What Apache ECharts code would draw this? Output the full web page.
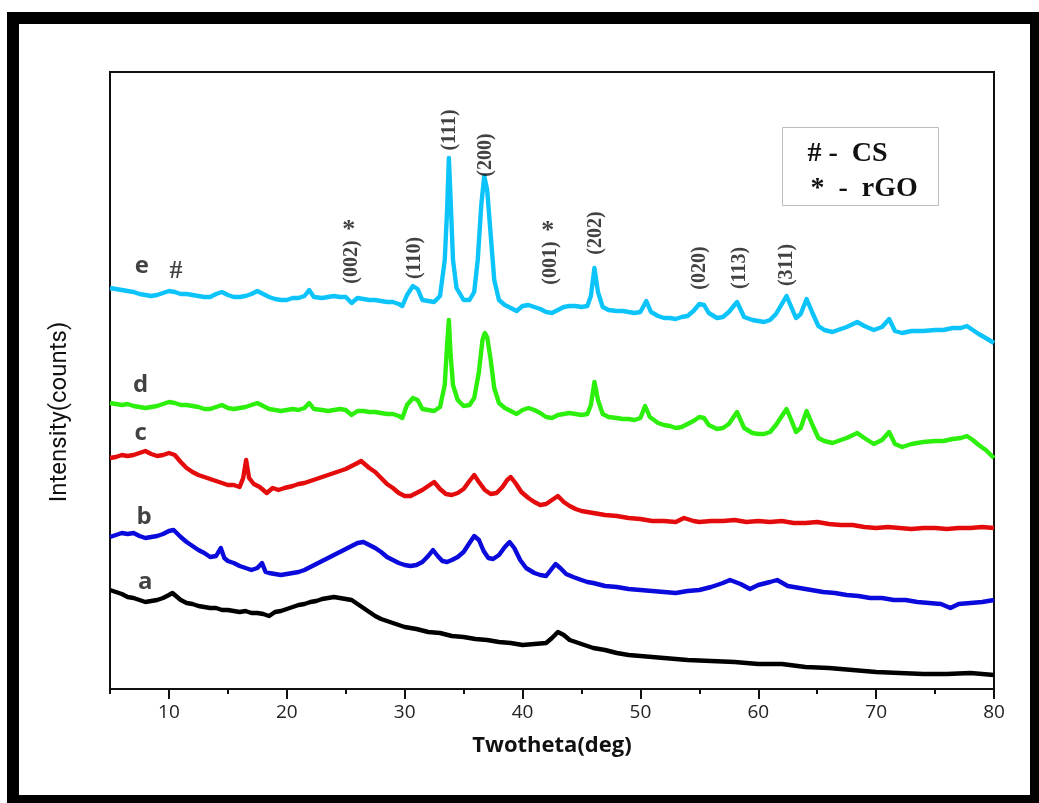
<!DOCTYPE html>
<html>
<head>
<meta charset="utf-8">
<script src="https://cdn.jsdelivr.net/npm/echarts@6/dist/echarts.min.js"></script>
<style>
  html, body { margin: 0; padding: 0; background: #ffffff; }
  #chart { width: 1039px; height: 803px; }
</style>
</head>
<body>
<div id="chart"></div>
<script>
// 2θ axis tick labels (degrees)
const majorTicks = [10, 20, 30, 40, 50, 60, 70, 80];

// XRD patterns, [2θ (deg), intensity (a.u., vertically offset for display)]
const patternA = [
  [5,99],[5.5,97],[6,95],[6.5,92],[7,91],[7.5,89],[8,87],[8.5,88],[9,89],[9.5,91],[10,94],[10.3,96],
  [10.7,92],[11,89],[11.5,86],[12,85],[12.5,83],[13,82],[13.5,81],[14,81],[14.5,79],[15,79],[15.5,78],
  [16,77],[16.5,78],[17,76],[17.5,76],[18,75],[18.5,73],[19,77],[19.5,78],[20,80],[20.5,82],[21,84],
  [21.5,85],[22,87],[22.5,88],[23,90],[23.5,91],[24,92],[24.5,91],[25,90],[25.5,89],[26,85],[26.5,81],
  [27,77],[27.5,73],[28,70],[28.5,68],[29,66],[29.5,64],[30,62],[31,60],[32,57],[33,56],[34,53],
  [35,52],[36,50],[37,49],[38,47],[39,46],[40,44],[41,45],[42,46],[42.5,51],[43,57],[43.5,54],[44,49],
  [45,45],[46,41],[47,39],[48,36],[49,34],[50,33],[52,31],[54,29],[56,28],[58,27],[60,25],[62,25],
  [64,22],[66,21],[68,19],[70,17],[72,16],[74,15],[76,15],[78,16],[80,14]
];
const patternB = [
  [5,152],[5.5,154],[6,156],[6.5,155],[7,156],[7.5,153],[8,151],[8.5,152],[9,153],[9.5,155],[10,158],
  [10.4,159],[11,152],[11.5,147],[12,143],[12.5,139],[13,136],[13.5,132],[14,133],[14.4,141],[14.7,131],
  [15,128],[15.5,126],[16,123],[16.5,121],[17,119],[17.5,121],[17.9,126],[18.2,117],[18.5,116],[19,115],
  [19.5,114],[20,115],[20.5,116],[21,117],[21.5,119],[22,122],[22.5,125],[23,128],[23.5,131],[24,134],
  [24.5,137],[25,140],[25.5,143],[26,146],[26.5,147],[27,144],[27.5,141],[28,137],[28.5,132],[29,129],
  [29.5,126],[30,124],[30.5,123],[31,124],[31.5,127],[32,133],[32.4,139],[32.8,133],[33.2,128],
  [33.6,127],[34,129],[34.5,132],[35,137],[35.5,146],[35.9,153],[36.3,149],[36.7,138],[37.1,131],
  [37.5,130],[38,134],[38.5,142],[38.9,147],[39.3,141],[39.8,129],[40.3,121],[41,116],[41.5,114],
  [42,113],[42.4,119],[42.8,125],[43.2,121],[43.7,115],[44.3,112],[45,109],[45.5,107],[46,106],
  [47,103],[48,102],[49,100],[50,99],[51,98],[52,97],[53,96],[54,98],[55,99],[56,102],[57,106],
  [57.6,109],[58.5,105],[59.3,100],[60,104],[61,107],[61.6,109],[62.5,103],[63.5,101],[64.5,99],
  [65.5,97],[66.5,96],[67.5,94],[68.5,93],[69.5,91],[70.5,91],[71.5,89],[72.5,89],[73.5,87],[74.5,86],
  [75.5,85],[76.3,81],[77,85],[78,86],[79,87],[80,89]
];
const patternC = [
  [5,231],[5.5,232],[6,234],[6.5,233],[7,234],[7.5,236],[8,238],[8.5,235],[9,233],[9.5,234],[10,236],
  [10.5,234],[11,227],[11.5,221],[12,217],[12.5,214],[13,212],[13.5,210],[14,208],[14.5,206],[15,204],
  [15.5,204],[16,202],[16.3,211],[16.55,229],[16.8,211],[17.2,205],[17.7,202],[18.3,196],[18.8,201],
  [19.3,199],[19.8,201],[20.5,203],[21,205],[21.5,206],[22,208],[22.5,210],[23,212],[23.5,214],[24,216],
  [24.5,218],[25,220],[25.5,223],[26,226],[26.3,228],[26.7,224],[27,221],[27.5,217],[28,211],[28.5,205],
  [29,201],[29.5,196],[30,193],[30.5,193],[31,196],[31.5,199],[32,203],[32.5,207],[33,200],[33.5,195],
  [34,194],[34.5,196],[35,200],[35.5,208],[35.9,214],[36.3,207],[36.8,199],[37.3,195],[37.8,196],
  [38.3,202],[38.7,209],[39,212],[39.4,206],[39.9,197],[40.5,191],[41,187],[41.5,184],[42,185],
  [42.5,189],[43,193],[43.5,187],[44,183],[44.5,180],[45,178],[46,176],[47,174],[48,173],[49,171],
  [50,170],[51,168],[52,168],[53,167],[53.7,171],[54.5,168],[55,167],[56,168],[57,168],[58,169],
  [59,167],[60,168],[61,167],[62,168],[63,166],[64,166],[65,167],[66,165],[67,164],[68,164],[69,162],
  [70,161],[71,162],[72,161],[73,160],[74,161],[75,161],[76,160],[77,161],[78,161],[79,162],[80,161]
];
const patternD = [
  [5,286],[5.5,285],[6,284],[6.5,285],[7,283],[7.5,282],[8,281],[8.5,282],[9,283],[9.5,285],[10,287],
  [10.5,286],[11,284],[11.5,284],[12,283],[12.5,282],[13,280],[13.5,280],[14,282],[14.5,284],[15,281],
  [15.5,280],[16,281],[16.5,282],[17,284],[17.5,286],[18,283],[18.5,280],[19,279],[19.5,278],[20,279],
  [20.5,280],[21,279],[21.5,281],[21.9,286],[22.3,280],[23,279],[23.5,278],[24,279],[24.5,280],[25,279],
  [25.5,274],[26,278],[26.5,278],[27,277],[27.5,277],[28,276],[28.5,275],[29,275],[29.5,273],[29.8,271],
  [30.2,284],[30.7,291],[31.1,289],[31.5,280],[32,279],[32.5,278],[33,282],[33.4,304],[33.6,344],
  [33.75,369],[33.9,334],[34.1,304],[34.5,289],[35,283],[35.5,284],[35.9,291],[36.3,317],[36.6,349],
  [36.8,356],[37,352],[37.3,329],[37.6,301],[38,286],[38.5,281],[39,278],[39.5,275],[40,279],[40.5,281],
  [41,279],[41.5,276],[42,272],[42.5,271],[43,274],[43.5,275],[44,276],[44.5,275],[45,274],[45.5,275],
  [45.8,284],[46.1,307],[46.4,289],[46.8,275],[47.3,272],[48,271],[48.5,270],[49,270],[49.5,269],
  [50,271],[50.4,283],[50.8,272],[51.5,266],[52,264],[52.5,263],[53,261],[53.5,262],[54,265],[54.5,268],
  [55,272],[55.4,271],[55.8,264],[56.5,260],[57,261],[57.5,265],[58.2,277],[58.8,261],[59.5,256],
  [60,255],[60.5,255],[61,257],[61.5,264],[62,273],[62.4,280],[62.8,269],[63.2,257],[63.6,261],
  [64.1,278],[64.6,264],[65.1,251],[65.6,248],[66.3,246],[67,249],[67.5,251],[68.4,256],[69,251],
  [69.8,245],[70.5,249],[71.1,257],[71.6,245],[72.2,242],[73,245],[74,247],[75,248],[75.7,248],
  [76.5,250],[77.2,251],[77.7,253],[78.2,249],[78.7,244],[79.3,239],[80,231]
];
const patternE = [
  [5,401],[5.5,400],[6,399],[6.5,398],[7,397],[7.5,395],[8,394],[8.5,393],[9,394],[9.5,396],[10,398],
  [10.5,397],[11,395],[11.5,395],[12,394],[12.5,393],[13,392],[13.5,392],[14,395],[14.5,397],[15,394],
  [15.5,392],[16,392],[16.5,393],[17,395],[17.5,398],[18,395],[18.5,392],[19,390],[19.5,389],[20,389],
  [20.5,391],[21,391],[21.5,393],[21.9,399],[22.3,392],[23,391],[23.5,392],[24,393],[24.5,392],[25,392],
  [25.5,386],[26,391],[26.5,390],[27,389],[27.5,389],[28,388],[28.5,387],[29,387],[29.5,385],[29.8,383],
  [30.2,394],[30.7,403],[31.1,400],[31.5,389],[32,388],[32.5,387],[33,393],[33.4,429],[33.6,479],
  [33.75,531],[33.9,489],[34.1,429],[34.4,401],[35,389],[35.5,389],[35.9,397],[36.2,429],[36.5,484],
  [36.75,513],[37,499],[37.3,454],[37.6,409],[38,389],[38.5,384],[39,381],[39.5,378],[40,383],[40.5,384],
  [41,382],[41.5,380],[42,377],[42.5,376],[43,379],[43.5,382],[44,383],[44.5,383],[45,382],[45.5,383],
  [45.8,393],[46.1,421],[46.4,397],[46.8,382],[47.3,379],[48,378],[48.5,378],[49,377],[49.5,376],
  [50,377],[50.5,388],[50.9,377],[51.5,373],[52,371],[52.5,371],[53,370],[53.5,372],[54,373],[54.5,378],
  [55,385],[55.4,384],[55.8,376],[56.5,371],[57,372],[57.5,377],[58.2,387],[58.8,372],[59.5,369],
  [60,368],[60.5,367],[61,369],[61.5,375],[62,385],[62.4,393],[62.8,382],[63.2,371],[63.6,375],
  [64.1,390],[64.6,376],[65.1,363],[65.6,359],[66.3,357],[67,360],[67.5,362],[68.4,367],[69,363],
  [69.8,359],[70.5,362],[71.1,370],[71.6,358],[72.2,356],[73,358],[74,358],[75,359],[75.7,359],
  [76.5,361],[77.2,361],[77.7,363],[78.2,359],[78.7,355],[79.3,351],[80,346]
];

// Sample names and colours
const sampleNames = ['a', 'b', 'c', 'd', 'e'];
const sampleColors = ['#000000', '#0a0adc', '#e30b0b', '#2cf00c', '#0cc4fa'];
// Sample name label anchors [2θ, intensity]
const sampleLabelPos = [[8.0, 107], [7.9, 172], [7.6, 256], [7.6, 304], [7.7, 423]];

// Reflection (hkl) labels [2θ, intensity, text]
const hklLabels = [
  [25.5, 427, '(002)'], [30.85, 431, '(110)'], [33.8, 559, '(111)'], [36.85, 534, '(200)'],
  [42.4, 426, '(001)'], [46.25, 456, '(202)'], [55.05, 421, '(020)'], [58.45, 421, '(113)'],
  [62.4, 424, '(311)']
];
// Phase markers [2θ, intensity, symbol]
const phaseMarks = [[25.25, 459, '*'], [42.15, 458, '*'], [10.6, 418, '#']];

const patterns = [patternA, patternB, patternC, patternD, patternE];

const chart = echarts.init(document.getElementById('chart'), null, { renderer: 'canvas' });

const lineSeries = patterns.map((p, i) => ({
  name: sampleNames[i],
  type: 'line',
  data: p,
  showSymbol: false,
  symbol: 'none',
  smooth: false,
  lineStyle: { color: sampleColors[i], width: 4.4, join: 'round' },
  z: 3,
  silent: true
}));

const textSeries = (data, style, z) => ({
  type: 'scatter',
  data: data,
  symbolSize: 0,
  silent: true,
  z: z || 5,
  label: Object.assign({ show: true, position: 'inside', formatter: p => p.data[2] }, style)
});

const option = {
  animation: false,
  backgroundColor: '#ffffff',
  grid: {
    left: 110, right: 45, top: 72, bottom: 114,
    show: true, borderColor: '#111', borderWidth: 2, backgroundColor: 'transparent'
  },
  xAxis: [{
    type: 'value', min: 5, max: 80, interval: 5,
    name: 'Twotheta(deg)', nameLocation: 'middle', nameGap: 46,
    nameTextStyle: { fontFamily: 'Open Sans', fontWeight: 'bold', fontSize: 22, color: '#111' },
    axisLine: { show: true, onZero: false, lineStyle: { color: '#111', width: 2 } },
    axisTick: { show: true, inside: false, length: 5, lineStyle: { color: '#111', width: 2 } },
    axisLabel: {
      show: true, margin: 14, fontFamily: 'Open Sans', fontSize: 19, color: '#222',
      customValues: majorTicks
    },
    splitLine: { show: false }
  }, {
    type: 'value', min: 5, max: 80, interval: 5, position: 'bottom', gridIndex: 0,
    axisLine: { show: false },
    axisTick: { show: true, inside: false, length: 10, customValues: majorTicks,
                lineStyle: { color: '#111', width: 2 } },
    axisLabel: { show: false },
    splitLine: { show: false }
  }],
  yAxis: {
    type: 'value', min: 0, max: 617,
    axisLine: { show: true, onZero: false, lineStyle: { color: '#111', width: 2 } },
    axisTick: { show: false },
    axisLabel: { show: false },
    splitLine: { show: false }
  },
  series: [
    ...lineSeries,
    textSeries(hklLabels, { rotate: 90, fontFamily: 'Liberation Serif', fontWeight: 'bold', fontSize: 20, color: '#111' }),
    textSeries(phaseMarks, { fontFamily: 'Liberation Serif', fontWeight: 'bold', fontSize: 26, color: '#111' }),
    textSeries(sampleLabelPos.map((p, i) => [p[0], p[1], sampleNames[i]]),
      { fontFamily: 'Open Sans', fontWeight: 'bold', fontSize: 24, color: '#111' })
  ],
  graphic: [
    // outer frame
    { type: 'rect', shape: { x: 7, y: 12, width: 1032, height: 12 }, style: { fill: '#000' } },
    { type: 'rect', shape: { x: 7, y: 12, width: 12, height: 791 }, style: { fill: '#000' } },
    { type: 'rect', shape: { x: 1030, y: 12, width: 9, height: 791 }, style: { fill: '#000' } },
    { type: 'rect', shape: { x: 7, y: 795, width: 1032, height: 8 }, style: { fill: '#000' } },
    // y axis title
    {
      type: 'text', x: 60, y: 412, rotation: Math.PI / 2,
      style: { text: 'Intensity(counts)', fontFamily: 'Roboto', fontSize: 24, fill: '#111',
               align: 'center', verticalAlign: 'middle' }
    },
    // phase key
    {
      type: 'group', left: 782, top: 127,
      children: [
        { type: 'rect', shape: { x: 0, y: 0, width: 156, height: 78 },
          style: { fill: '#fff', stroke: '#bdbdbd', lineWidth: 1 } },
        { type: 'text', x: 25, y: 26,
          style: { text: '# -  CS', fontFamily: 'Liberation Serif', fontWeight: 'bold', fontSize: 28,
                   fill: '#111', verticalAlign: 'middle' } },
        { type: 'text', x: 28, y: 61,
          style: { text: '*  -  rGO', fontFamily: 'Liberation Serif', fontWeight: 'bold', fontSize: 28,
                   fill: '#111', verticalAlign: 'middle' } }
      ]
    }
  ]
};

chart.setOption(option);
</script>
</body>
</html>
